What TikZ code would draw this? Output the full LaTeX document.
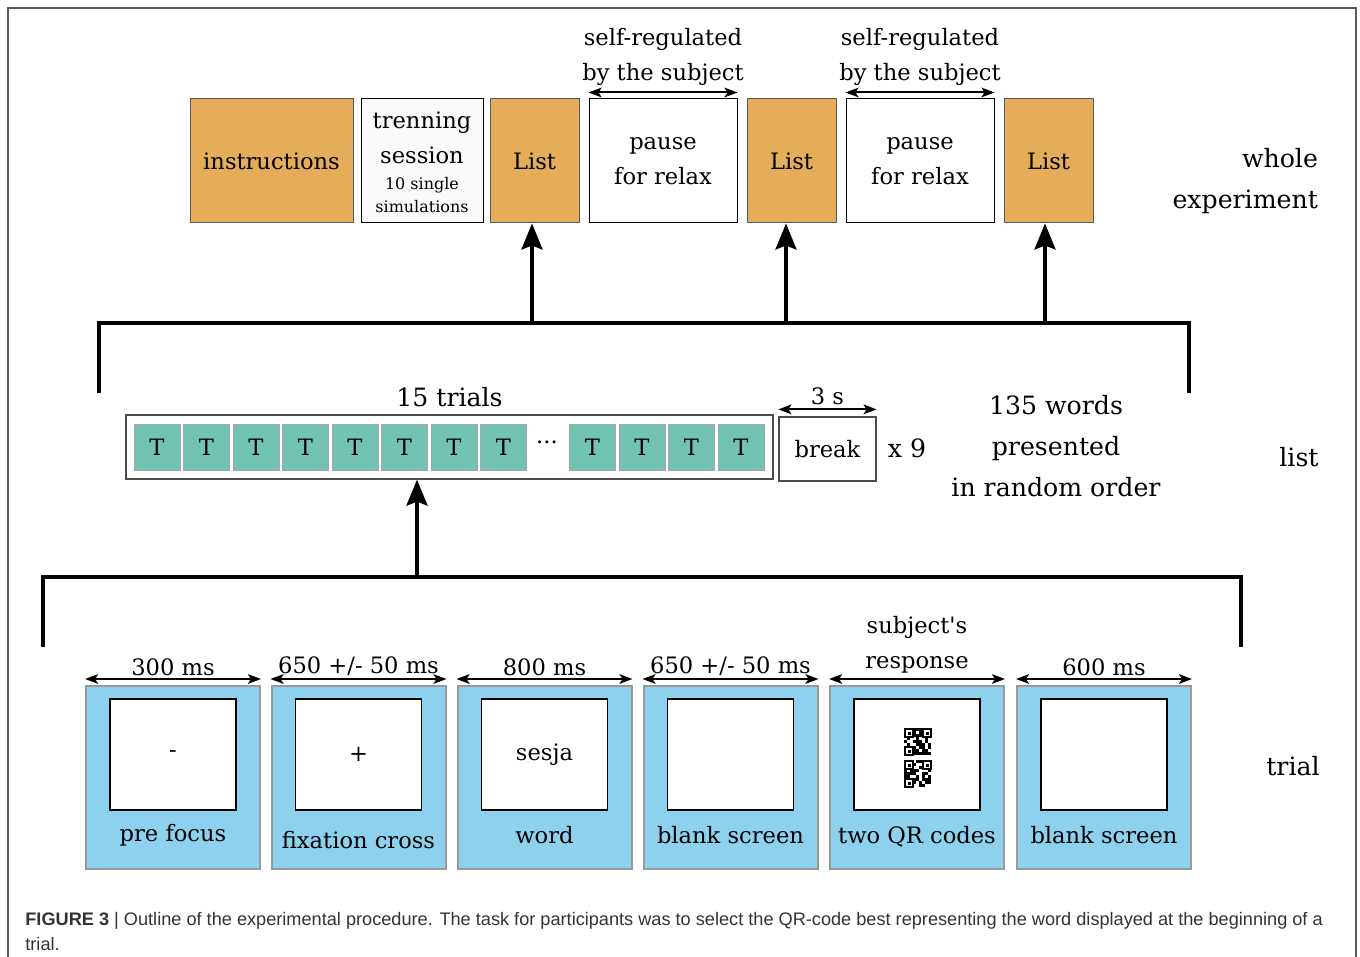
\documentclass[tikz,border=0pt]{standalone}
\usepackage{fontspec}
\setmainfont{DejaVu Serif}
\setsansfont{Liberation Sans}
\usetikzlibrary{arrows.meta,positioning}

\definecolor{listorange}{RGB}{229,173,90}
\definecolor{trialteal}{RGB}{114,195,177}
\definecolor{screenblue}{RGB}{141,209,238}
\definecolor{framegray}{RGB}{90,90,90}

\newdimen\px \px=0.5pt
\newcommand\labfont{\fontsize{11.3}{17.5}\selectfont}
\newcommand\bigfont{\fontsize{12.6}{20.5}\selectfont}
\newcommand\smallfont{\fontsize{8}{11.5}\selectfont}
\newcommand\capfont{\sffamily\fontsize{9.08}{12}\selectfont}

\begin{document}
\begin{tikzpicture}[x=0.5pt, y=-0.5pt,
  block/.style = {draw=gray!70!black, line width=1\px, inner sep=0pt, align=center,
                  font=\labfont, minimum height=124\px},
  listbox/.style = {block, fill=listorange, minimum width=89\px},
  pausebox/.style = {block, draw=black, fill=white, minimum width=148\px},
  tbox/.style = {draw=gray!70, line width=1\px, fill=trialteal, minimum width=46\px,
                 minimum height=46\px, inner sep=0pt, font=\labfont},
  screen/.style = {draw=gray!80, line width=2\px, fill=screenblue, minimum width=174\px,
                   minimum height=183\px, inner sep=0pt},
  inner/.style = {draw=black, line width=1.5\px, fill=white, minimum width=126\px,
                  minimum height=111\px, inner sep=0pt},
  bracket/.style = {line width=4.5\px, line join=miter},
  up/.style = {line width=3.5\px, -{Stealth[length=13pt, width=10.5pt, inset=2pt]}},
  span/.style = {line width=2\px,
                 {Stealth[length=6.5pt, width=4.8pt, inset=1.5pt]}-{Stealth[length=6.5pt, width=4.8pt, inset=1.5pt]}},
  ]
  \useasboundingbox (0,0) rectangle (1360,957);
  % frame
  \draw[framegray, line width=1.5\px] (8,960) -- (8,8) -- (1356,8) -- (1356,960);

  % whole experiment
  \node[listbox, minimum width=163\px] (instr) at (271.5,161) {instructions};
  \node[block, draw=black, fill=gray!4, minimum width=122\px] (train) at (422,161) {};
  \node[font=\labfont, align=center] (trainlab) at (422,138) {trenning\\session};
  \node[font=\smallfont, align=center] (trainsub) at (422,195) {10 single\\simulations};
  \node[listbox] (list1) at (534.5,161) {List};
  \node[pausebox] (pause1) at (663,161) {pause\\for relax};
  \node[listbox] (list2) at (791.5,161) {List};
  \node[pausebox] (pause2) at (920,161) {pause\\for relax};
  \node[listbox] (list3) at (1048.5,161) {List};
  \foreach \p in {pause1,pause2}{
    \draw[span] ([yshift=3pt]\p.north west) -- ([yshift=3pt]\p.north east);
    \node[font=\labfont, align=center, anchor=south] at ([yshift=3pt]\p.north)
      {self-regulated\\by the subject};
  }
  \node[font=\bigfont, align=right, anchor=east] (whole) at (1325,181) {whole\\experiment};

  % bracket to the lists
  \draw[bracket] (99,393) -- (99,323) -- (1189,323) -- (1189,393);
  \coordinate (a1) at (532,323);
  \coordinate (a2) at (786,323);
  \coordinate (a3) at (1045,323);
  \draw[up] (a1) -- (a1 |- list1.south);
  \draw[up] (a2) -- (a2 |- list2.south);
  \draw[up] (a3) -- (a3 |- list3.south);

  % list
  \node[draw=black!70, line width=1.2\px, minimum width=647\px, minimum height=64\px,
        inner sep=0pt] (trials) at (449.5,447) {};
  \foreach \tx in {157,206.5,256,305.5,355,404.5,454,503.5,592.5,642,691.5,741}
    \node[tbox] at (\tx,447) {T};
  \node[font=\labfont] (dots) at (547,442) {...};
  \node[font=\bigfont, anchor=south] at ([yshift=0pt]trials.north) {15 trials};
  \node[draw=black!70, line width=1.2\px, minimum width=97\px, minimum height=64\px,
        inner sep=0pt, font=\labfont] (break) at (827.5,449) {break};
  \draw[span] ([yshift=3.5pt]break.north west) -- ([yshift=3.5pt]break.north east);
  \node[font=\labfont, anchor=south] at ([yshift=2.5pt]break.north) {3 s};
  \node[font=\bigfont] (times) at (907,448) {x 9};
  \node[font=\bigfont, align=center] (words) at (1056,446)
    {135 words\\presented\\in random order};
  \node[font=\bigfont] (listlab) at (1299,457) {list};

  % bracket to the trials
  \draw[bracket] (43,647) -- (43,577) -- (1241,577) -- (1241,647);
  \coordinate (a0) at (417,577);
  \draw[up] (a0) -- (a0 |- trials.south);

  % trial
  \node[screen] (s1) at (173,777.5) {};
  \node[screen] (s2) at (358.5,777.5) {};
  \node[screen] (s3) at (544.5,777.5) {};
  \node[screen] (s4) at (730.5,777.5) {};
  \node[screen] (s5) at (917,777.5) {};
  \node[screen] (s6) at (1104,777.5) {};
  \foreach \s/\t/\lab/\d in {s1/{300 ms}/pre focus/7, s2/{650 +/- 50 ms}/fixation cross/14,
                          s3/{800 ms}/word/9, s4/{650 +/- 50 ms}/blank screen/9,
                          s5/{}/two QR codes/9, s6/{600 ms}/blank screen/9}{
    \node[inner, below=13\px of \s.north] (\s-in) {};
    \node[font=\labfont, below=\d\px of \s-in.south] {\lab};
    \draw[span] ([yshift=3pt]\s.north west) -- ([yshift=3pt]\s.north east);
    \node[font=\labfont, anchor=south] at ([yshift=1pt]\s.north) {\t};
  }
  \node[font=\labfont, align=center, anchor=south] at ([yshift=2.5pt]s5.north)
    {subject\textquotesingle s\\response};
  \node[font=\labfont] at (s1-in) {-};
  \node[font=\labfont] at (s2-in) {+};
  \node[font=\labfont] at (s3-in) {sesja};
  % two QR codes
  \pgfmathsetseed{11}
  \foreach \qy in {728,760}{
    \foreach \fx/\fy in {0/0,18/0,0/18}{
      \draw[line width=1.5\px] (905+\fx,\qy+\fy+1) rectangle +(8,8);
      \fill (905+\fx+2.5,\qy+\fy+3.5) rectangle +(3,3);
    }
    \foreach \i in {0,...,8}
      \foreach \j in {0,...,8}{
        \pgfmathtruncatemacro\on{(rnd<0.55) && !((\i<3 && \j<3) || (\i>5 && \j<3) || (\i<3 && \j>5))}
        \ifnum\on=1 \fill (904+3*\i,\qy+3*\j) rectangle +(3,3); \fi
      }
  }
  \node[font=\bigfont] (triallab) at (1293,766) {trial};

  % caption
  \node[font=\capfont, text=black!80, anchor=base west, inner sep=0pt] (caption) at (25,925)
    {\textbf{FIGURE 3} | Outline of the experimental procedure. The task for participants was to select the QR-code best representing the word displayed at the beginning of a};
  \node[font=\capfont, text=black!80, anchor=base west, inner sep=0pt] (caption2) at (25,950) {trial.};
\end{tikzpicture}
\end{document}
